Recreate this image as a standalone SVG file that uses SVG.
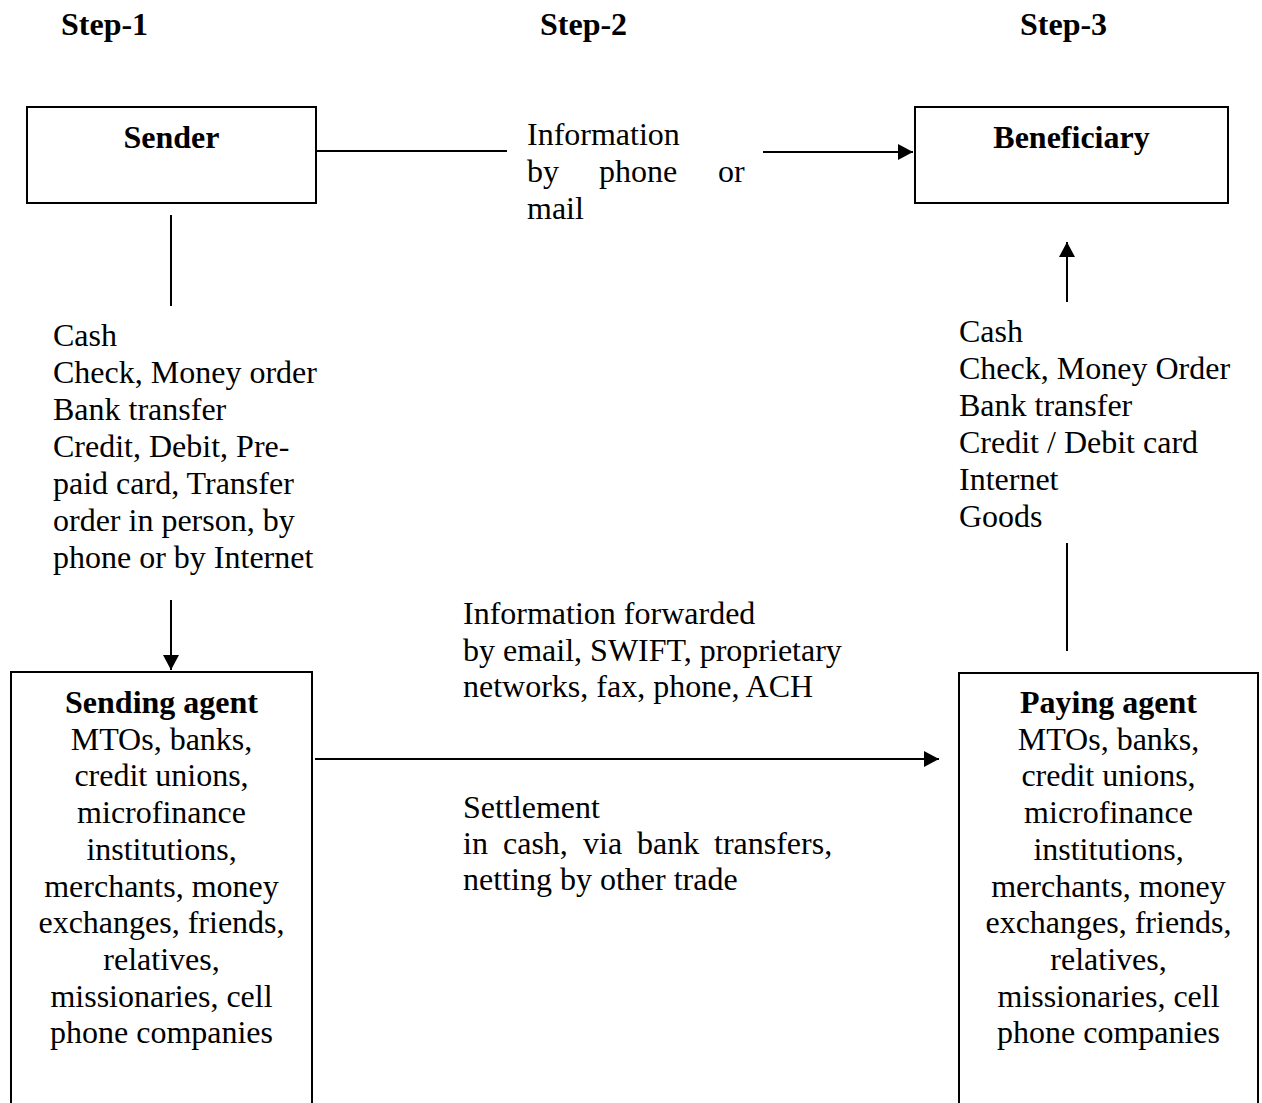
<svg xmlns="http://www.w3.org/2000/svg" width="1262" height="1103" viewBox="0 0 1262 1103">
<style>
text{font-family:"Liberation Serif","Times New Roman",serif;font-size:32px;fill:#000}
.b{font-weight:bold}
.c{text-anchor:middle}
.box{fill:#fff;stroke:#000;stroke-width:2}
.ln{stroke:#000;stroke-width:2;fill:none}
</style>
<defs>
<marker id="ah" markerUnits="userSpaceOnUse" markerWidth="16" markerHeight="16" refX="15" refY="8" orient="auto">
<path d="M0,0 L15,8 L0,16 z" fill="#000"/>
</marker>
</defs>
<rect width="1262" height="1103" fill="#fff"/>
<g id="steps">
<text class="b" x="61" y="35">Step-1</text>
<text class="b" x="540" y="35">Step-2</text>
<text class="b" x="1020" y="35">Step-3</text>
</g>
<g id="sender">
<rect class="box" x="27" y="107" width="289" height="96"/>
<text class="b c" x="171.5" y="148">Sender</text>
</g>
<g id="beneficiary">
<rect class="box" x="915" y="107" width="313" height="96"/>
<text class="b c" x="1071.5" y="148">Beneficiary</text>
</g>
<g id="sending-agent">
<rect class="box" x="11" y="672" width="301" height="470"/>
<text class="c" x="161.5" y="713"><tspan class="b">Sending agent</tspan><tspan x="161.5" dy="36.7">MTOs, banks,</tspan><tspan x="161.5" dy="36.7">credit unions,</tspan><tspan x="161.5" dy="36.7">microfinance</tspan><tspan x="161.5" dy="36.7">institutions,</tspan><tspan x="161.5" dy="36.7">merchants, money</tspan><tspan x="161.5" dy="36.7">exchanges, friends,</tspan><tspan x="161.5" dy="36.7">relatives,</tspan><tspan x="161.5" dy="36.7">missionaries, cell</tspan><tspan x="161.5" dy="36.7">phone companies</tspan></text>
</g>
<g id="paying-agent">
<rect class="box" x="959" y="673" width="299" height="470"/>
<text class="c" x="1108.5" y="713"><tspan class="b">Paying agent</tspan><tspan x="1108.5" dy="36.7">MTOs, banks,</tspan><tspan x="1108.5" dy="36.7">credit unions,</tspan><tspan x="1108.5" dy="36.7">microfinance</tspan><tspan x="1108.5" dy="36.7">institutions,</tspan><tspan x="1108.5" dy="36.7">merchants, money</tspan><tspan x="1108.5" dy="36.7">exchanges, friends,</tspan><tspan x="1108.5" dy="36.7">relatives,</tspan><tspan x="1108.5" dy="36.7">missionaries, cell</tspan><tspan x="1108.5" dy="36.7">phone companies</tspan></text>
</g>
<g id="connectors">
<line class="ln" x1="316" y1="151" x2="507" y2="151"/>
<line class="ln" x1="763" y1="152" x2="913" y2="152" marker-end="url(#ah)"/>
<line class="ln" x1="171" y1="215" x2="171" y2="306"/>
<line class="ln" x1="171" y1="600" x2="171" y2="670" marker-end="url(#ah)"/>
<line class="ln" x1="315" y1="759" x2="939" y2="759" marker-end="url(#ah)"/>
<line class="ln" x1="1067" y1="651" x2="1067" y2="543"/>
<line class="ln" x1="1067" y1="302" x2="1067" y2="242" marker-end="url(#ah)"/>
</g>
<g id="labels">
<text x="527" y="145">Information</text>
<text y="182"><tspan x="527">by</tspan><tspan x="599">phone</tspan><tspan x="718">or</tspan></text>
<text x="527" y="219">mail</text>
<text x="53" y="346"><tspan>Cash</tspan><tspan x="53" dy="37">Check, Money order</tspan><tspan x="53" dy="37">Bank transfer</tspan><tspan x="53" dy="37">Credit, Debit, Pre-</tspan><tspan x="53" dy="37">paid card, Transfer</tspan><tspan x="53" dy="37">order in person, by</tspan><tspan x="53" dy="37">phone or by Internet</tspan></text>
<text x="959" y="342"><tspan>Cash</tspan><tspan x="959" dy="37">Check, Money Order</tspan><tspan x="959" dy="37">Bank transfer</tspan><tspan x="959" dy="37">Credit / Debit card</tspan><tspan x="959" dy="37">Internet</tspan><tspan x="959" dy="37">Goods</tspan></text>
<text x="463" y="624"><tspan>Information forwarded</tspan><tspan x="463" dy="36.5">by email, SWIFT, proprietary</tspan><tspan x="463" dy="36.5">networks, fax, phone, ACH</tspan></text>
<text x="463" y="818">Settlement</text>
<text y="854"><tspan x="463">in</tspan><tspan x="503">cash,</tspan><tspan x="583">via</tspan><tspan x="637">bank</tspan><tspan x="714">transfers,</tspan></text>
<text x="463" y="890">netting by other trade</text>
</g>
</svg>
